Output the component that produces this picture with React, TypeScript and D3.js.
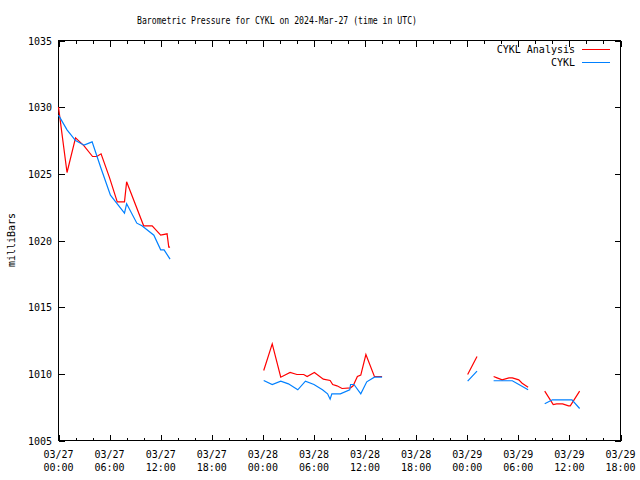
import React from "react";
import * as d3 from "d3";

// hours since 2024-03-27 00:00 UTC; null marks a gap in the record
const analysisHours: (number | null)[] = [
  0, 1, 2, 3, 4, 4.5, 5, 6, 6.9, 7.75, 8, 10, 11, 12, 12.75, 12.95, 13.1,
  null,
  24.1, 25.1, 26.1, 27.2, 28, 28.8, 29.2, 30.05, 31.1, 31.9, 32.2, 32.7, 33.3, 34.3, 34.6, 35.1, 35.5, 36.1, 37.1, 38,
  null,
  48.05, 49.15,
  null,
  51.1, 51.5, 52.1, 52.9, 53.3, 54.05, 54.45, 55.15,
  null,
  57.1, 58.1, 58.5, 59.2, 59.9, 60.1, 61.2,
];
const analysisValues: (number | null)[] = [
  1030.0, 1025.1, 1027.7, 1027.1, 1026.3, 1026.3, 1026.5, 1024.7, 1022.9, 1022.9, 1024.4, 1021.1, 1021.1, 1020.4, 1020.5, 1019.5, 1019.5,
  null,
  1010.25, 1012.25, 1009.75, 1010.1, 1009.95, 1009.95, 1009.8, 1010.1, 1009.6, 1009.5, 1009.2, 1009.1, 1008.9, 1008.95, 1009.1, 1009.8, 1009.9, 1011.45, 1009.8, 1009.8,
  null,
  1009.95, 1011.3,
  null,
  1009.8, 1009.7, 1009.55, 1009.7, 1009.7, 1009.55, 1009.3, 1009.0,
  null,
  1008.7, 1007.7, 1007.75, 1007.75, 1007.6, 1007.6, 1008.7,
];

const obsHours: (number | null)[] = [
  0, 1, 2, 3, 3.95, 5, 6.1, 6.9, 7.75, 8, 9.2, 9.8, 11.2, 12, 12.4, 13.1,
  null,
  24.1, 25.1, 26.1, 27, 28.1, 29, 30, 31, 31.6, 31.9, 32.1, 33.1, 34.2, 34.3, 34.7, 35.5, 36.2, 37.1, 38,
  null,
  48.05, 49.15,
  null,
  51.1, 53.3, 55.15,
  null,
  57.1, 58.0, 60.3, 61.2,
];
const obsValues: (number | null)[] = [
  1029.4, 1028.3, 1027.5, 1027.15, 1027.4, 1025.4, 1023.4, 1022.75, 1022.05, 1022.75, 1021.3, 1021.1, 1020.4, 1019.3, 1019.3, 1018.6,
  null,
  1009.5, 1009.2, 1009.45, 1009.25, 1008.8, 1009.45, 1009.2, 1008.8, 1008.5, 1008.1, 1008.5, 1008.5, 1008.8, 1009.2, 1009.2, 1008.5, 1009.4, 1009.75, 1009.75,
  null,
  1009.45, 1010.2,
  null,
  1009.48, 1009.48, 1008.8,
  null,
  1007.75, 1008.05, 1008.05, 1007.4,
];

const yTicks = [1005, 1010, 1015, 1020, 1025, 1030, 1035];
const xMajorTicks = [0, 6, 12, 18, 24, 30, 36, 42, 48, 54, 60, 66];
const xTickDates = ["03/27", "03/27", "03/27", "03/27", "03/28", "03/28", "03/28", "03/28", "03/29", "03/29", "03/29", "03/29"];
const xTickTimes = ["00:00", "06:00", "12:00", "18:00", "00:00", "06:00", "12:00", "18:00", "00:00", "06:00", "12:00", "18:00"];

const title = "Barometric Pressure for CYKL on 2024-Mar-27 (time in UTC)";
const yLabel = "milliBars";
const seriesNames = ["CYKL Analysis", "CYKL"];
const seriesColors = ["#ff0000", "#0080ff"];

const L = 58.5, R = 620.5, T = 40.5, B = 440.5;
const font = "'DejaVu Sans Mono', monospace";

export default function App() {
  const x = d3.scaleLinear().domain([0, 66]).range([L, R]);
  const y = d3.scaleLinear().domain([1005, 1035]).range([B, T]);

  const mk = (hs: (number | null)[], vs: (number | null)[]) => {
    const pts = hs.map((h, i) => [h, vs[i]] as [number | null, number | null]);
    return d3
      .line<[number | null, number | null]>()
      .defined((d) => d[0] != null && d[1] != null)
      .x((d) => x(d[0] as number))
      .y((d) => y(d[1] as number))(pts) as string;
  };

  const minor = d3.range(0, 67, 2).filter((h) => h % 6 !== 0);

  return (
    <svg width={640} height={480} style={{ position: "absolute", left: 0, top: 0, background: "#fff" }}>
      <rect x={0} y={0} width={640} height={480} fill="#fff" />
      <text x={277} y={24} textAnchor="middle" fontFamily={font} fontSize={10} textLength={280} lengthAdjust="spacingAndGlyphs">
        {title}
      </text>
      <g shapeRendering="crispEdges" stroke="#000" strokeWidth={1}>
        {yTicks.map((v) => (
          <g key={v}>
            <line x1={L} x2={L + 6} y1={Math.round(y(v)) + 0.5} y2={Math.round(y(v)) + 0.5} />
            <line x1={R} x2={R - 6} y1={Math.round(y(v)) + 0.5} y2={Math.round(y(v)) + 0.5} />
          </g>
        ))}
        {xMajorTicks.map((h) => (
          <g key={h}>
            <line x1={Math.round(x(h)) + 0.5} x2={Math.round(x(h)) + 0.5} y1={B} y2={B - 6} />
            <line x1={Math.round(x(h)) + 0.5} x2={Math.round(x(h)) + 0.5} y1={T} y2={T + 6} />
          </g>
        ))}
        {minor.map((h) => (
          <g key={h}>
            <line x1={Math.round(x(h)) + 0.5} x2={Math.round(x(h)) + 0.5} y1={B} y2={B - 3} />
            <line x1={Math.round(x(h)) + 0.5} x2={Math.round(x(h)) + 0.5} y1={T} y2={T + 3} />
          </g>
        ))}
        <rect x={L} y={T} width={R - L} height={B - T} fill="none" />
      </g>
      <g fontFamily={font} fontSize={10} fill="#000">
        {yTicks.map((v) => (
          <text key={v} x={52} y={y(v) + 4} textAnchor="end">
            {v}
          </text>
        ))}
        {xMajorTicks.map((h, i) => (
          <g key={h}>
            <text x={x(h)} y={458} textAnchor="middle">{xTickDates[i]}</text>
            <text x={x(h)} y={471} textAnchor="middle">{xTickTimes[i]}</text>
          </g>
        ))}
        <text transform="translate(15,240) rotate(-90)" textAnchor="middle">{yLabel}</text>
        <text x={575} y={53} textAnchor="end">{seriesNames[0]}</text>
        <text x={575} y={66} textAnchor="end">{seriesNames[1]}</text>
      </g>
      <g shapeRendering="crispEdges" strokeWidth={1}>
        <line x1={582} x2={610} y1={49.5} y2={49.5} stroke={seriesColors[0]} />
        <line x1={582} x2={610} y1={62.5} y2={62.5} stroke={seriesColors[1]} />
      </g>
      <path d={mk(analysisHours, analysisValues)} fill="none" stroke={seriesColors[0]} strokeWidth={1.2} />
      <path d={mk(obsHours, obsValues)} fill="none" stroke={seriesColors[1]} strokeWidth={1.2} />
    </svg>
  );
}
